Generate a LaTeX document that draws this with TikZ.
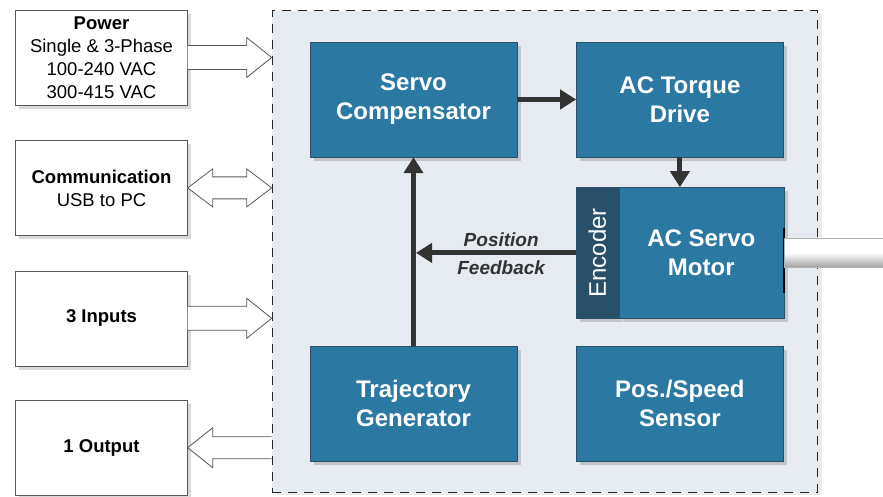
\documentclass[tikz,border=0pt]{standalone}
\usepackage{fontspec}
\setmainfont{Liberation Sans}
\usetikzlibrary{positioning,calc,shadows,arrows.meta}
\definecolor{boxblue}{RGB}{43,121,163}
\definecolor{encblue}{RGB}{41,80,106}
\definecolor{panelfill}{RGB}{230,235,241}
\definecolor{linkgray}{RGB}{51,51,51}

\begin{document}
\begin{tikzpicture}
    [
    x=1pt,
    y=-1pt,
    panelbox/.style={
      rectangle,
      draw=black!85,
      dash pattern=on 9pt off 7pt,
      line width=1pt,
      fill=panelfill,
      minimum width=545,
      minimum height=481,
      inner sep=0pt,
      drop shadow={shadow xshift=5pt,shadow yshift=-3pt,opacity=0.15}
    },
    block/.style={
      rectangle,
      fill=boxblue,
      draw=encblue,
      text=white,
      font=\fontsize{24}{29}\selectfont\bfseries,
      align=center,
      minimum width=207,
      minimum height=115,
      drop shadow={shadow xshift=4pt,shadow yshift=-4pt,opacity=0.35}
    },
    iobox/.style={
      rectangle,
      draw=gray!70!black,
      fill=white,
      align=center,
      font=\fontsize{18.5}{23}\selectfont,
      minimum width=172,
      minimum height=95,
      drop shadow={shadow xshift=3pt,shadow yshift=-4pt,opacity=0.3}
    },
    fat/.style={
      draw=gray!70!black,
      fill=white,
      line width=0.8pt
    },
    link/.style={
      draw=linkgray,
      line width=5pt,
      -{Triangle[length=16pt,width=19pt]}
    }
    ]
    \useasboundingbox (0,0) rectangle (883,497);

    % drive enclosure
    \node (drive) at (544.5,251.5) [panelbox] {};

    % blocks
    \node (servo) at (413.5,99.5) [block] {Servo\\Compensator};
    \node (torque) [block, right=59pt of servo] {AC Torque\\Drive};
    \node (encoder) [block, below=30pt of torque.south west, anchor=north west,
      fill=encblue, minimum width=42, minimum height=131, inner sep=0pt,
      font=\fontsize{24}{29}\selectfont] {\rotatebox{90}{Encoder}};
    \node (motor) [block, right=0pt of encoder, minimum width=165,
      minimum height=131] {AC Servo\\Motor};
    \node (traj) [block, below=189pt of servo] {Trajectory\\Generator};
    \node (sensor) [block, below=189pt of torque] {Pos./Speed\\Sensor};

    % motor shaft
    \draw[line width=1.5pt, black] ($(motor.east)+(0,-25)$) -- ($(motor.east)+(0,40)$);
    \node (shaft) [anchor=west, minimum width=100, minimum height=29, inner sep=0pt,
      draw=gray!60, top color=white, bottom color=gray!75, middle color=white]
      at (motor.east) {};

    % outside connections
    \node (power) at (101.5,57.5) [iobox] {\textbf{Power}\\Single \& 3-Phase\\100-240 VAC\\300-415 VAC};
    \node (comm) [iobox, below=35pt of power] {\textbf{Communication}\\USB to PC};
    \node (inputs) [iobox, below=35pt of comm] {\textbf{3 Inputs}};
    \node (output) [iobox, below=34pt of inputs] {\textbf{1 Output}};

    \draw[fat] ($(power.east)+(0,-12)$) -- ++(59,0) -- ++(0,-8) -- ++(25,20)
      -- ++(-25,20) -- ++(0,-8) -- ++(-59,0);
    \draw[fat] (comm.east) -- ++(25,-19) -- ++(0,8) -- ++(34,0) -- ++(0,-8)
      -- ++(25,19) -- ++(-25,19) -- ++(0,-8) -- ++(-34,0) -- ++(0,8) -- cycle;
    \draw[fat] ($(inputs.east)+(0,-12)$) -- ++(59,0) -- ++(0,-8) -- ++(25,20)
      -- ++(-25,20) -- ++(0,-8) -- ++(-59,0);
    \draw[fat] ($(output.east)+(84,-11)$) -- ++(-59,0) -- ++(0,-9) -- (output.east)
      -- ++(25,20) -- ++(0,-9) -- ++(59,0);

    % signal flow
    \draw[link] (servo.east) -- (torque.west);
    \draw[link] (torque.south) -- (torque.south |- motor.north);
    \draw[link] (traj.north) -- (servo.south);
    \draw[link] (encoder.west) -- ($(servo.south |- encoder.west)+(2.5,0)$);
    \node (feedback) at ($(encoder.west)+(-75,1)$) [align=center, text=linkgray,
      font=\fontsize{19}{28}\selectfont\bfseries\itshape] {Position\\Feedback};
  \end{tikzpicture}
\end{document}
